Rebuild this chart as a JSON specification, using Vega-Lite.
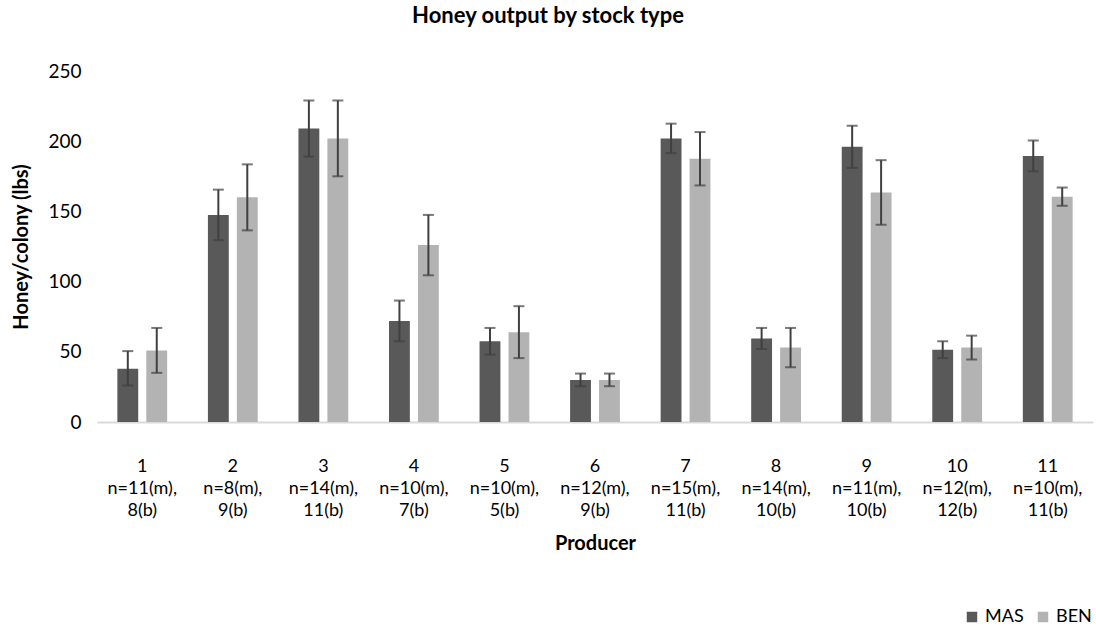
{
  "$schema": "https://vega.github.io/schema/vega-lite/v6.json",
  "autosize": {"type": "none"},
  "width": 996,
  "height": 351,
  "padding": {"left": 97, "top": 71, "right": 3, "bottom": 205},
  "background": "white",
  "title": {
    "text": "Honey output  by stock type",
    "font": "Lato",
    "fontSize": 22,
    "fontWeight": "bold",
    "color": "#000000",
    "anchor": "middle",
    "dx": -47,
    "offset": 34
  },
  "data": {
    "values": [
      {"producer": "1|n=11(m),|8(b)", "stock": "MAS", "honey": 38, "lo": 26, "hi": 50.5},
      {"producer": "1|n=11(m),|8(b)", "stock": "BEN", "honey": 51, "lo": 35, "hi": 67},
      {"producer": "2|n=8(m),|9(b)", "stock": "MAS", "honey": 147.5, "lo": 129.5, "hi": 165.5},
      {"producer": "2|n=8(m),|9(b)", "stock": "BEN", "honey": 160, "lo": 136.5, "hi": 183.5},
      {"producer": "3|n=14(m),|11(b)", "stock": "MAS", "honey": 209, "lo": 189, "hi": 229},
      {"producer": "3|n=14(m),|11(b)", "stock": "BEN", "honey": 202, "lo": 175, "hi": 229},
      {"producer": "4|n=10(m),|7(b)", "stock": "MAS", "honey": 72, "lo": 57.5, "hi": 86.5},
      {"producer": "4|n=10(m),|7(b)", "stock": "BEN", "honey": 126, "lo": 104.5, "hi": 147.5},
      {"producer": "5|n=10(m),|5(b)", "stock": "MAS", "honey": 57.5, "lo": 48, "hi": 67},
      {"producer": "5|n=10(m),|5(b)", "stock": "BEN", "honey": 64, "lo": 45.5, "hi": 82.5},
      {"producer": "6|n=12(m),|9(b)", "stock": "MAS", "honey": 30, "lo": 25.5, "hi": 34.5},
      {"producer": "6|n=12(m),|9(b)", "stock": "BEN", "honey": 30, "lo": 25.5, "hi": 34.5},
      {"producer": "7|n=15(m),|11(b)", "stock": "MAS", "honey": 202, "lo": 191.5, "hi": 212.5},
      {"producer": "7|n=15(m),|11(b)", "stock": "BEN", "honey": 187.5, "lo": 168.5, "hi": 206.5},
      {"producer": "8|n=14(m),|10(b)", "stock": "MAS", "honey": 59.5, "lo": 52, "hi": 67},
      {"producer": "8|n=14(m),|10(b)", "stock": "BEN", "honey": 53, "lo": 39, "hi": 67},
      {"producer": "9|n=11(m),|10(b)", "stock": "MAS", "honey": 196, "lo": 181, "hi": 211},
      {"producer": "9|n=11(m),|10(b)", "stock": "BEN", "honey": 163.5, "lo": 140.5, "hi": 186.5},
      {"producer": "10|n=12(m),|12(b)", "stock": "MAS", "honey": 51.5, "lo": 45.5, "hi": 57.5},
      {"producer": "10|n=12(m),|12(b)", "stock": "BEN", "honey": 53, "lo": 44.5, "hi": 61.5},
      {"producer": "11|n=10(m),|11(b)", "stock": "MAS", "honey": 189.5, "lo": 178.5, "hi": 200.5},
      {"producer": "11|n=10(m),|11(b)", "stock": "BEN", "honey": 160.5, "lo": 154, "hi": 167}
    ]
  },
  "encoding": {
    "x": {
      "field": "producer",
      "type": "nominal",
      "sort": null,
      "scale": {"paddingInner": 0.45, "paddingOuter": 0.225},
      "axis": {
        "title": "Producer",
        "titleFont": "Lato",
        "titleFontSize": 20,
        "titleFontWeight": "bold",
        "titleColor": "#000000",
        "titlePadding": 14,
        "labelExpr": "split(datum.label, '|')",
        "labelAngle": 0,
        "labelFont": "Lato",
        "labelFontSize": 18,
        "labelLineHeight": 22,
        "labelColor": "#000000",
        "labelPadding": 35,
        "ticks": false,
        "domainColor": "#d9d9d9",
        "domainWidth": 2,
        "grid": false
      }
    },
    "xOffset": {
      "field": "stock",
      "type": "nominal",
      "sort": ["MAS", "BEN"],
      "scale": {"paddingInner": 0.28}
    }
  },
  "layer": [
    {
      "mark": {"type": "bar"},
      "encoding": {
        "y": {
          "field": "honey",
          "type": "quantitative",
          "scale": {"domain": [0, 250], "nice": false},
          "axis": {
            "title": "Honey/colony  (lbs)",
            "titleFont": "Lato",
            "titleFontSize": 20,
            "titleFontWeight": "bold",
            "titleColor": "#000000",
            "titlePadding": 16,
            "values": [0, 50, 100, 150, 200, 250],
            "labelFont": "Lato",
            "labelFontSize": 19,
            "labelColor": "#000000",
            "labelPadding": 16,
            "ticks": false,
            "domain": false,
            "grid": false
          }
        },
        "color": {
          "field": "stock",
          "type": "nominal",
          "sort": ["MAS", "BEN"],
          "scale": {"domain": ["MAS", "BEN"], "range": ["#595959", "#b3b3b3"]},
          "legend": {
            "title": null,
            "orient": "none",
            "legendX": 866,
            "legendY": 537,
            "direction": "horizontal",
            "symbolType": "square",
            "symbolSize": 110,
            "symbolStrokeWidth": 0,
            "labelFont": "Lato",
            "labelFontSize": 18,
            "labelColor": "#000000",
            "columnPadding": 10,
            "labelOffset": 4
          }
        }
      }
    },
    {
      "mark": {"type": "rule", "color": "#404040", "strokeWidth": 2},
      "encoding": {
        "y": {"field": "lo", "type": "quantitative"},
        "y2": {"field": "hi"}
      }
    },
    {
      "mark": {"type": "tick", "color": "#404040", "size": 11, "thickness": 2},
      "encoding": {
        "y": {"field": "lo", "type": "quantitative"}
      }
    },
    {
      "mark": {"type": "tick", "color": "#404040", "size": 11, "thickness": 2},
      "encoding": {
        "y": {"field": "hi", "type": "quantitative"}
      }
    }
  ],
  "config": {
    "view": {"stroke": null},
    "tick": {"bandSize": 11}
  }
}
